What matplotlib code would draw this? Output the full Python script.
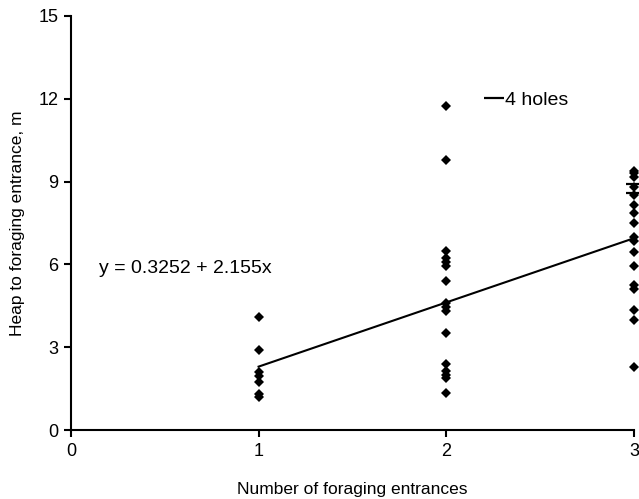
import numpy as np
import matplotlib as mpl
import matplotlib.pyplot as plt

mpl.rcParams['font.family'] = ['Liberation Sans', 'DejaVu Sans']
mpl.rcParams['font.size'] = 13

# heap-to-entrance distances (m) by number of foraging entrances
x1_vals = [4.1, 2.9, 2.1, 1.95, 1.75, 1.3, 1.2]
x2_vals = [11.75, 9.8, 6.5, 6.25, 6.1, 5.95, 5.4, 4.6, 4.45, 4.3,
           3.5, 2.4, 2.15, 2.0, 1.9, 1.35]
x3_vals = [9.4, 9.3, 9.15, 8.8, 8.5, 8.15, 7.85, 7.5, 7.0, 6.85,
           6.45, 5.95, 5.25, 5.1, 4.35, 4.0, 2.3]
holes4_vals = [8.9, 8.6]   # burrows with 4 holes, at 3 entrances

# fitted line as drawn
fit_x = [1, 3]
fit_y = [2.3, 6.95]
eq_text = 'y = 0.3252 + 2.155x'

xticks = [0, 1, 2, 3]
yticks = [0, 3, 6, 9, 12, 15]

fig = plt.figure(figsize=(6.39, 4.99), dpi=100)
ax = fig.add_axes([0.111, 0.138, 0.881, 0.830])

for xv, vals in [(1, x1_vals), (2, x2_vals), (3, x3_vals)]:
    ax.plot([xv]*len(vals), vals, 'D', color='black', ms=4.8, mew=0,
            clip_on=False, zorder=3)

ax.plot([3]*len(holes4_vals), holes4_vals, '_', color='black', ms=11,
        mew=1.6, clip_on=False, zorder=3, label='4 holes')

ax.plot(fit_x, fit_y, '-', color='black', lw=1.5, zorder=2)

ax.text(0.15, 5.87, eq_text, fontsize=14, ha='left', va='center')

ax.set_xlim(0, 3)
ax.set_ylim(0, 15)
ax.set_xticks(xticks)
ax.set_yticks(yticks)

for s in ['top', 'right']:
    ax.spines[s].set_visible(False)
for s in ['left', 'bottom']:
    ax.spines[s].set_linewidth(1.5)
ax.tick_params(direction='out', length=5, width=1.5, labelsize=13, pad=4)

ax.set_xlabel('Number of foraging entrances', fontsize=12.5, labelpad=16)
ax.set_ylabel('Heap to foraging entrance, m', fontsize=12.5, labelpad=10)

ax.legend(loc='center left', bbox_to_anchor=(0.717, 0.797), frameon=False,
          handlelength=1.0, handletextpad=0.05, borderpad=0, numpoints=1,
          markerscale=1.3, fontsize=14)

plt.savefig('out.png', dpi=100)
